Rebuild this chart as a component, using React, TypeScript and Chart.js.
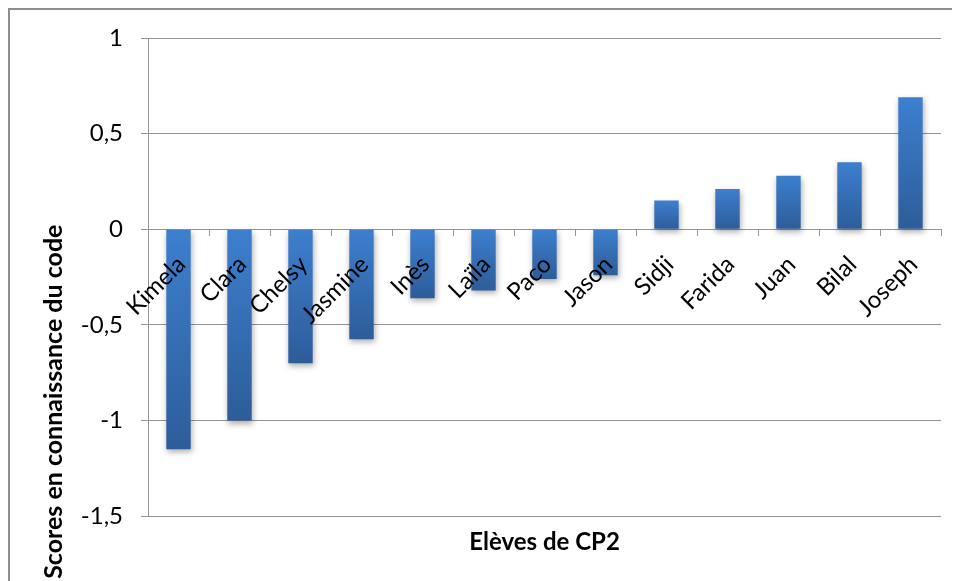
import React, { useEffect, useRef } from 'react';
import { Chart, registerables } from 'chart.js';

Chart.register(...registerables);

// ---- data ----
const students = ['Kimela', 'Clara', 'Chelsy', 'Jasmine', 'Inès', 'Laïla', 'Paco', 'Jason', 'Sidji', 'Farida', 'Juan', 'Bilal', 'Joseph'];
const scores = [-1.15, -1.0, -0.7, -0.575, -0.36, -0.32, -0.26, -0.24, 0.15, 0.21, 0.28, 0.35, 0.69];
const yTickValues = [-1.5, -1, -0.5, 0, 0.5, 1];
const yTitle = 'Scores en connaissance du code';
const xTitle = 'Elèves de CP2';

const GRID = '#949494';
const FONT = 'Lato';

const barShadow = {
  id: 'barShadow',
  beforeDatasetsDraw(chart: any) {
    const c = chart.ctx;
    c.save();
    c.shadowColor = 'rgba(0,0,0,0.32)';
    c.shadowBlur = 6;
    c.shadowOffsetX = 1;
    c.shadowOffsetY = 3;
  },
  afterDatasetsDraw(chart: any) {
    chart.ctx.restore();
  },
};

const sideTitle = {
  id: 'sideTitle',
  afterDraw(chart: any, _args: any, opts: any) {
    const { ctx, chartArea } = chart;
    ctx.save();
    ctx.translate(chartArea.left + opts.dx, chartArea.bottom + opts.dy);
    ctx.rotate(-Math.PI / 2);
    ctx.font = `bold 25px ${FONT}`;
    ctx.fillStyle = '#000';
    ctx.textAlign = 'center';
    ctx.textBaseline = 'middle';
    ctx.fillText(opts.text, 0, 0);
    ctx.restore();
  },
};

export default function App() {
  const ref = useRef<HTMLCanvasElement | null>(null);

  useEffect(() => {
    if (!ref.current) return;
    const chart = new Chart(ref.current, {
      type: 'bar',
      data: {
        labels: students,
        datasets: [
          {
            data: scores,
            xAxisID: 'x',
            yAxisID: 'y',
            categoryPercentage: 1,
            barPercentage: 0.4,
            borderWidth: 0,
            backgroundColor: (c: any) => {
              const ch = c.chart;
              if (!ch.chartArea || c.type !== 'data' || !ch.scales.y) return '#3570b8';
              const v = c.parsed ? c.parsed.y : c.raw;
              const ys = ch.scales.y;
              const p0 = ys.getPixelForValue(0);
              const p1 = ys.getPixelForValue(v);
              const top = Math.min(p0, p1);
              const bot = Math.max(p0, p1) + 0.01;
              const g = ch.ctx.createLinearGradient(0, top, 0, bot);
              g.addColorStop(0, '#3d7fcf');
              g.addColorStop(1, '#2d5d99');
              return g;
            },
          },
        ],
      },
      options: {
        responsive: false,
        maintainAspectRatio: false,
        animation: false,
        layout: { padding: { top: 28, right: 19, bottom: 24, left: 0 } },
        plugins: {
          legend: { display: false },
          tooltip: { enabled: false },
          sideTitle: { text: yTitle, dx: -94, dy: -114.5 },
        } as any,
        scales: {
          x: {
            type: 'category',
            position: { y: 0 } as any,
            offset: true,
            grid: {
              display: true,
              drawOnChartArea: false,
              drawTicks: true,
              tickLength: 7,
              color: GRID,
              offset: true,
            },
            border: { display: false },
            ticks: {
              z: 1,
              autoSkip: false,
              minRotation: 45,
              maxRotation: 45,
              padding: 14,
              labelOffset: 3,
              color: '#000',
              font: { family: FONT, size: 24 },
            },
          },
          x2: {
            type: 'category',
            position: 'bottom',
            labels: students,
            grid: { display: false, drawTicks: false },
            border: { display: false },
            ticks: { display: false },
            title: {
              display: true,
              text: xTitle,
              color: '#000',
              font: { family: FONT, size: 24, weight: 'bold' },
              padding: { top: 12, bottom: 0 },
            },
          },
          y: {
            type: 'linear',
            min: -1.5,
            max: 1,
            afterFit: (s: any) => {
              s.width = 138;
            },
            afterBuildTicks: (s: any) => {
              s.ticks = yTickValues.map((v) => ({ value: v }));
            },
            grid: { color: GRID, drawTicks: true, tickLength: 7, lineWidth: 1 },
            border: { display: true, color: GRID, width: 1 },
            ticks: {
              padding: 18,
              color: '#000',
              font: { family: FONT, size: 24, lineHeight: 0.8 },
              callback: (v: any) => String(v).replace('.', ','),
            },
          },
        } as any,
      },
      plugins: [barShadow, sideTitle],
    });
    return () => chart.destroy();
  }, []);

  return (
    <div
      style={{
        width: 952,
        height: 573,
        boxSizing: 'border-box',
        borderTop: '2px solid #8d8d8d',
        borderLeft: '2px solid #8d8d8d',
        overflow: 'hidden',
        background: '#fff',
      }}
    >
      <canvas ref={ref} width={950} height={571} style={{ display: 'block', width: 950, height: 571 }} />
    </div>
  );
}
